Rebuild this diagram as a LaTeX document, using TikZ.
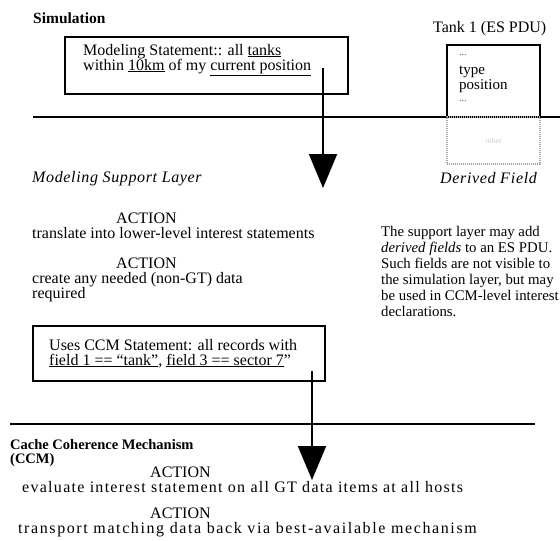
\documentclass[tikz,border=0pt]{standalone}
\usepackage{fontspec}
\setmainfont{Liberation Serif}
\usetikzlibrary{arrows.meta}
\begin{document}
\begin{tikzpicture}[x=1pt,y=-1pt,
  txt/.style={anchor=base west,inner sep=0pt,font=\fontsize{16}{16}\selectfont},
  wide/.style={anchor=base west,inner sep=0pt,font=\fontsize{16}{16}\selectfont\addfontfeatures{LetterSpace=8}},
  wider/.style={anchor=base west,inner sep=0pt,font=\fontsize{16}{16}\selectfont\addfontfeatures{LetterSpace=10}},
  ptxt/.style={anchor=base west,inner sep=0pt,font=\fontsize{14.8}{15}\selectfont},
  head/.style={anchor=base west,inner sep=0pt,font=\fontsize{15.5}{16}\selectfont\bfseries},
  ital/.style={anchor=base west,inner sep=0pt,font=\fontsize{16}{16}\selectfont\itshape\addfontfeatures{LetterSpace=4}},
  box/.style={draw,line width=2pt,inner sep=0pt},
  layer/.style={line width=2pt},
  flow/.style={line width=2pt,-{Triangle[width=28pt,length=34pt]}},
  fieldtxt/.style={anchor=base west,inner sep=0pt,font=\fontsize{15}{15}\selectfont},
  dots/.style={anchor=base west,inner sep=0pt,text=black!70,font=\fontsize{10}{10}\selectfont},
]
\useasboundingbox (0,0) rectangle (560,541);
\fill[white] (0,0) rectangle (560,541);

% ---- simulation layer ----
\node[head] (sim) at (33,23) {Simulation};
\node[box,minimum width=283pt,minimum height=57pt] (stmt) at (206.5,65.5) {};
\node[txt] (ms1) at (83,55) {Modeling Statement:: all \underline{tanks}};
\node[txt] (ms2) at (83,70) {within \underline{10km} of my \underline{current position}};

% entity state PDU record
\node[anchor=base west,inner sep=0pt,font=\fontsize{16}{16}\selectfont] (tank) at (433,32) {Tank 1 (ES PDU)};
\node[box,minimum width=93pt,minimum height=72pt] (pdu) at (493.5,81) {};
\node[dots] (f1) at (459,55) {...};
\node[fieldtxt] (f2) at (459,74) {type};
\node[fieldtxt] (f3) at (459,89) {position};
\node[dots] (f4) at (459,101) {...};

% boundary between simulation and support layer
\coordinate (l1a) at (33,117);
\coordinate (l1b) at (560,117);
\draw[layer] (l1a) -- (l1b);

% derived field, hidden from the simulation layer
\node[draw=gray!70,line width=1.2pt,dash pattern=on 1pt off 1pt,
      minimum width=93pt,minimum height=47pt,inner sep=0pt] (dfbox) at (493.5,140.5) {};
\node[text=gray!40,inner sep=0pt,font=\fontsize{8}{8}\selectfont] (dfval) at (dfbox.center) {other};
\node[ital] (dflabel) at (440,183) {Derived F\kern1pt ield};

% ---- modeling support layer ----
\node[ital] (msl) at (32,182) {Modeling Support Layer};
\node[txt] (act1) at (116,223) {ACTION};
\node[txt] (tr1) at (32,238) {translate into lower-level interest statements};
\node[txt] (act2) at (116,268) {ACTION};
\node[txt] (cr1) at (32,283) {create any needed (non-GT) data};
\node[txt] (cr2) at (32,298) {required};

\node[ptxt] (p1) at (381,236) {The support layer may add};
\node[ptxt] (p2) at (381,252) {\textit{derived fields} to an ES PDU.};
\node[ptxt] (p3) at (381,268) {Such fields are not visible to};
\node[ptxt] (p4) at (381,284) {the simulation layer, but may};
\node[ptxt] (p5) at (381,300) {be used in CCM-level interest};
\node[ptxt] (p6) at (381,316) {declarations.};

\node[box,minimum width=292pt,minimum height=55pt] (ccmstmt) at (179,353.5) {};
\node[txt] (u1) at (49,350) {Uses CCM Statement: all records with};
\node[txt] (u2) at (49,365) {\underline{field 1 == “tank”}, \underline{field 3 == sector 7}”};

% boundary between support layer and CCM
\coordinate (l2a) at (10,424);
\coordinate (l2b) at (535,424);
\draw[layer] (l2a) -- (l2b);

% ---- cache coherence mechanism ----
\node[head,font=\fontsize{14.5}{15}\selectfont\bfseries] (ccm1) at (10,449) {Cache Coherence Mechanism};
\node[head,font=\fontsize{14.5}{15}\selectfont\bfseries] (ccm2) at (10,463) {(CCM)};
\node[txt] (act3) at (150,477) {ACTION};
\node[wide] (ev) at (22,492) {evaluate interest statement on all GT data items at all hosts};
\node[txt] (act4) at (150,518) {ACTION};
\node[wider] (tp) at (18,533) {transport matching data back via best-available mechanism};

% interest statements passed downwards
\coordinate (a1s) at (323,68);
\coordinate (a1e) at (323,188);
\draw[flow] (a1s) -- (a1e);
\coordinate (a2s) at (312,371);
\coordinate (a2e) at (312,480);
\draw[flow] (a2s) -- (a2e);
\end{tikzpicture}
\end{document}
